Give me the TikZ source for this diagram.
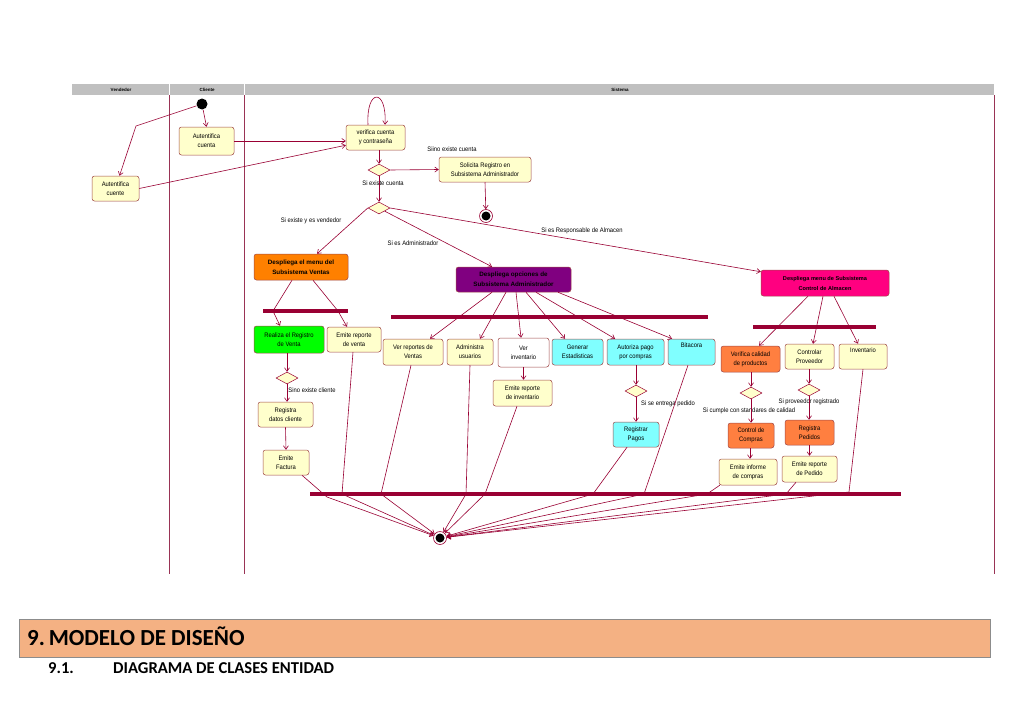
\documentclass[tikz,border=0pt]{standalone}
\usepackage{fontspec}
\setmainfont{Liberation Sans}
\newfontfamily\dg[FakeStretch=0.9]{Liberation Sans}
\newfontfamily\cb{Carlito}
\usetikzlibrary{shapes.geometric,arrows.meta}
\definecolor{lnc}{HTML}{990033}
\definecolor{lanec}{HTML}{993355}
\definecolor{bxc}{HTML}{A04848}
\definecolor{yl}{HTML}{FFFFCC}
\definecolor{orv}{HTML}{FF8000}
\definecolor{pur}{HTML}{800080}
\definecolor{mag}{HTML}{FF0080}
\definecolor{grn}{HTML}{00FF00}
\definecolor{cyn}{HTML}{80FFFF}
\definecolor{or2}{HTML}{FF7F40}
\definecolor{hdr}{HTML}{C0C0C0}
\definecolor{ban}{HTML}{F4B183}
\definecolor{banb}{HTML}{8C8C8C}
\begin{document}
\begin{tikzpicture}[x=1pt,y=-1pt,
  act/.style={draw=bxc, fill=yl, rounded corners=2.5pt, inner sep=1pt, align=center,
    font=\dg\fontsize{6.5}{9}\selectfont, line width=0.5pt},
  bact/.style={act, font=\bfseries\fontsize{6.3}{10}\selectfont},
  sz/.style 2 args={minimum width=#1pt, minimum height=#2pt},
  dia/.style={diamond, draw=lnc, fill=yl, minimum width=22pt, minimum height=12pt, inner sep=0pt, line width=0.5pt},
  arr/.style={draw=lnc, line width=0.6pt, -{Straight Barb[length=3.5pt,width=5pt]}},
  bar/.style={fill=lnc, inner sep=0pt, minimum height=3.5pt},
  lbl/.style={font=\dg\fontsize{6.5}{8}\selectfont, inner sep=0pt},
  hlb/.style={font=\bfseries\fontsize{4.5}{5}\selectfont, inner sep=0pt},
  endn/.style={circle, draw=lnc, fill=white, minimum size=13pt, inner sep=0pt, line width=0.6pt},
  lane/.style={draw=lanec, line width=0.8pt}
]
\useasboundingbox (0,0) rectangle (1024,725);
\fill[white] (0,0) rectangle (1024,725);

% swimlane header
\fill[hdr] (72,84) rectangle (994,95);
\draw[white, line width=0.6pt] (169,84) -- (169,95) (244,84) -- (244,95);
\node[hlb] (hV) at (121,90) {Vendedor};
\node[hlb] (hC) at (207,90) {Cliente};
\node[hlb] (hS) at (620,90) {Sistema};
\draw[lane] (169,95) -- (169,574);
\draw[lane] (244,95) -- (244,574);
\draw[lane] (994,95) -- (994,574);

% start / end
\node[circle, fill=black, minimum size=11pt, inner sep=0pt] (start) at (202,104) {};
\node[endn] (end1) at (486,216) {};
\fill[black] (end1) circle (4.5pt);
\node[endn] (end2) at (440,538) {};
\fill[black] (end2) circle (4.5pt);

% activities
\node[act, sz={55}{28}] (autC) at (206.5,141) {Autentifica\\cuenta};
\node[act, sz={47}{25}] (autV) at (115.5,188.5) {Autentifica\\cuente};
\node[act, sz={59}{25}] (verif) at (375.5,137.5) {verifica cuenta\\y contraseña};
\node[act, sz={92}{25}] (solic) at (485,169.5) {Solicita Registro en\\Subsistema Administrador};
\node[bact, fill=orv, sz={94}{26}] (ventas) at (301,267) {Despliega el menu del\\Subsistema Ventas};
\node[bact, fill=pur, sz={115}{25}] (admin) at (513.5,279.5) {Despliega opciones de\\Subsistema Administrador};
\node[bact, fill=mag, sz={128}{26}, font=\bfseries\fontsize{5.6}{10}\selectfont] (almacen) at (825,283) {Despliega menu de Subsistema\\Control de Almacen};
\node[act, fill=grn, sz={70}{27}] (realiza) at (289,339.5) {Realiza el Registro\\de Venta};
\node[act, sz={54}{25}] (emiteV) at (354,339.5) {Emite reporte\\de venta};
\node[act, sz={55}{25}] (regDat) at (285.5,414.5) {Registra\\datos cliente};
\node[act, sz={46}{25}] (factura) at (286,462.5) {Emite\\Factura};
\node[act, sz={60}{26}] (verRep) at (413,352) {Ver reportes de\\Ventas};
\node[act, sz={46}{26}] (adminU) at (470,352) {Administra\\usuarios};
\node[act, fill=white, sz={51}{29}] (verInv) at (523.5,352.5) {Ver\\inventario};
\node[act, fill=cyn, sz={51}{26}] (genEst) at (577.5,352) {Generar\\Estadisticas};
\node[act, fill=cyn, sz={57}{26}] (autPago) at (635.5,352) {Autoriza pago\\por compras};
\node[act, fill=cyn, sz={47}{26}] (bitac) at (691.5,352) {Bitacora\\[4pt]};
\node[act, sz={59}{26}] (emiteInv) at (522.5,393) {Emite reporte\\de inventario};
\node[act, fill=cyn, sz={46}{25}] (regPag) at (636,434.5) {Registrar\\Pagos};
\node[act, fill=or2, sz={59}{26}] (verCal) at (750.5,359) {Verifica calidad\\de productos};
\node[act, sz={49}{25}] (ctrlProv) at (809.5,356.5) {Controlar\\Proveedor};
\node[act, sz={48}{25}] (inv) at (863,356.5) {Inventario\\[4pt]};
\node[act, fill=or2, sz={46}{25}] (ctrlComp) at (751,435.5) {Control de\\Compras};
\node[act, sz={58}{26}] (emiteInf) at (748,472) {Emite informe\\de compras};
\node[act, fill=or2, sz={49}{25}] (regPed) at (809.5,432.5) {Registra\\Pedidos};
\node[act, sz={55}{26}] (emitePed) at (809.5,469) {Emite reporte\\de Pedido};

% decisions
\node[dia] (d1) at (379,170) {};
\node[dia] (d2) at (379,208) {};
\node[dia] (d3) at (287,378) {};
\node[dia] (d4) at (636,391) {};
\node[dia] (d5) at (751,393) {};
\node[dia] (d6) at (809,390) {};

% bars
\node[bar, minimum width=85pt] (barV) at (305.5,311) {};
\node[bar, minimum width=317pt, minimum height=4pt] (barA) at (549.5,317) {};
\node[bar, minimum width=123pt] (barC) at (814.5,327) {};
\node[bar, minimum width=591pt, minimum height=4pt] (barJ) at (605.5,494) {};

% labels
\node[lbl] (l1) at (452,149) {Siino existe cuenta};
\node[lbl] (l2) at (383,183) {Si existe cuenta};
\node[lbl] (l3) at (311,221) {Si existe  y es vendedor};
\node[lbl] (l4) at (413,243) {Si es Administrador};
\node[lbl] (l5) at (582,231) {Si es Responsable de  Almacen};
\node[lbl] (l6) at (312,390) {Sino existe cliente};
\node[lbl] (l7) at (668,404) {Si se entrega pedido};
\node[lbl] (l8) at (749,411) {Si cumple con standares de calidad};
\node[lbl] (l9) at (809,402) {Si proveedor registrado};

% connectors - top
\draw[arr] (start) -- (autC.north);
\draw[arr] (start) -- (136,126) -- ([xshift=4pt]autV.north);
\draw[arr] (autC.east) -- (autC.east -| verif.west);
\draw[arr] (autV.east) -- ([yshift=5pt]verif.south west);
\draw[arr] ([xshift=-7.5pt]verif.north) .. controls (366,88) and (387,88) .. ([xshift=9.5pt]verif.north);
\draw[arr] (d1 |- verif.south) -- (d1.north);
\draw[arr] (d1.east) -- (solic.west);
\draw[arr] (solic.south) -- (end1);
\draw[arr] (d1.south) -- (d2.north);
\draw[arr] (d2.west) -- ([xshift=16pt]ventas.north);
\draw[arr] (d2.south east) -- ([xshift=-21.5pt]admin.north);
\draw[arr] (d2.east) -- ([yshift=-2pt]almacen.north west);

% ventas
\draw[arr] ([xshift=-9pt]ventas.south) -- (273,311) -- ([xshift=-9pt]realiza.north);
\draw[arr] ([xshift=12pt]ventas.south) -- (338,311) -- ([xshift=-7pt]emiteV.north);
\draw[arr] (d3 |- realiza.south) -- (d3.north);
\draw[arr] (d3.south) -- (d3 |- regDat.north);
\draw[arr] (regDat.south) -- (factura.north);

% administrador
\draw[arr] ([xshift=-21.5pt]admin.south) -- ([xshift=17pt]verRep.north);
\draw[arr] ([xshift=-7.5pt]admin.south) -- ([xshift=10pt]adminU.north);
\draw[arr] ([xshift=2.5pt]admin.south) -- ([xshift=-2.5pt]verInv.north);
\draw[arr] ([xshift=12.5pt]admin.south) -- ([xshift=-12.5pt]genEst.north);
\draw[arr] ([xshift=22.5pt]admin.south) -- ([xshift=-20.5pt]autPago.north);
\draw[arr] ([xshift=44.5pt]admin.south) -- ([xshift=-19.5pt]bitac.north);
\draw[arr] (verInv.south) -- (verInv.south |- emiteInv.north);
\draw[arr] (d4 |- autPago.south) -- (d4.north);
\draw[arr] (d4.south) -- (regPag.north);

% almacen
\draw[arr] ([xshift=-17pt]almacen.south) -- ([xshift=8.5pt]verCal.north);
\draw[arr] ([xshift=-2pt]almacen.south) -- ([xshift=3.5pt]ctrlProv.north);
\draw[arr] ([xshift=9pt]almacen.south) -- ([xshift=-5pt]inv.north);
\draw[arr] (d5 |- verCal.south) -- (d5.north);
\draw[arr] (d5.south) -- (ctrlComp.north);
\draw[arr] ([xshift=-1pt]ctrlComp.south) -- ([xshift=-1pt]ctrlComp.south |- emiteInf.north);
\draw[arr] (d6 |- ctrlProv.south) -- (d6.north);
\draw[arr] (d6.south) -- (d6 |- regPed.north);
\draw[arr] (regPed.south) -- (emitePed.north);

% join
\draw[arr] ([xshift=16pt]factura.south) -- (327,497) -- (end2);
\draw[arr] ([xshift=-1pt]emiteV.south) -- (342,494) -- (end2);
\draw[arr] ([xshift=-2pt]verRep.south) -- (381,494) -- (end2);
\draw[arr] (adminU.south) -- (466,494) -- (end2);
\draw[arr] ([xshift=-5.5pt]emiteInv.south) -- (485,494) -- (end2);
\draw[arr] ([xshift=-9pt]regPag.south) -- (593,494) -- (end2);
\draw[arr] ([xshift=-3.5pt]bitac.south) -- (644,494) -- (end2);
\draw[arr] ([xshift=1pt]emiteInf.south west) -- (707,494) -- (end2);
\draw[arr] ([xshift=-13.5pt]emitePed.south) -- (786,494) -- (end2);
\draw[arr] (inv.south) -- (849,492) -- (end2);

% section heading
\node[draw=banb, fill=ban, line width=0.8pt, minimum width=971pt, minimum height=38pt, inner sep=0pt] (banner) at (504.5,638) {};
\node[anchor=base west, inner sep=0pt, font=\cb\bfseries\fontsize{23}{26}\selectfont] (t9) at (27,645) {9.\,MODELO DE DISEÑO};
\node[anchor=base west, inner sep=0pt, font=\cb\bfseries\fontsize{16.6}{19}\selectfont] (t91) at (48,673) {9.1.};
\node[anchor=base west, inner sep=0pt, font=\cb\bfseries\fontsize{16.6}{19}\selectfont] (t91b) at (113,673) {DIAGRAMA DE CLASES ENTIDAD};
\end{tikzpicture}
\end{document}
